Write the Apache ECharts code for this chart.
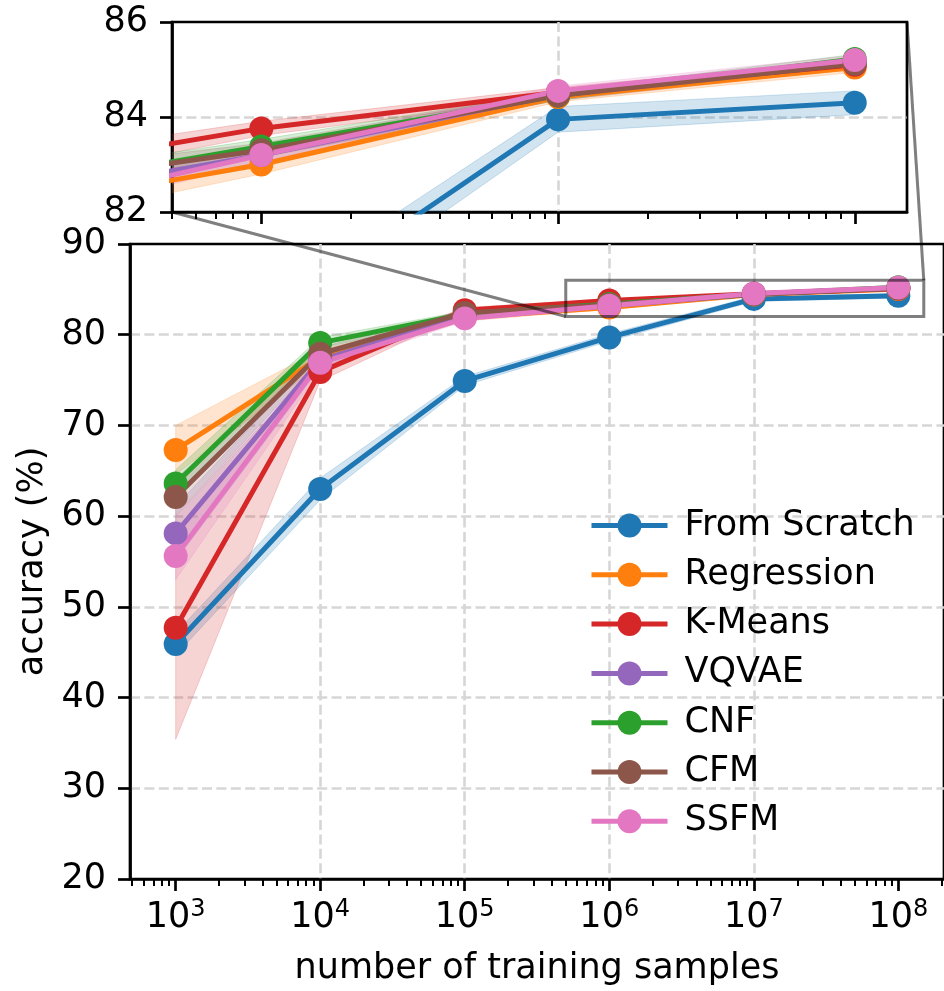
<!DOCTYPE html>
<html>
<head>
<meta charset="utf-8">
<script src="https://cdn.jsdelivr.net/npm/echarts@6/dist/echarts.min.js"></script>
<style>
  html, body { margin: 0; padding: 0; background: #ffffff; }
  #chart { width: 944px; height: 991px; }
</style>
</head>
<body>
<div id="chart"></div>
<script>
// Number of training samples (x) and accuracy (%) per method: mean and spread.
const trainingSizes = [1e3, 1e4, 1e5, 1e6, 1e7, 1e8];

const methodNames = ['From Scratch', 'Regression', 'K-Means', 'VQVAE', 'CNF', 'CFM', 'SSFM'];
const methodColors = ['#1f77b4', '#ff7f0e', '#d62728', '#9467bd', '#2ca02c', '#8c564b', '#e377c2'];

const fromScratchMean = [45.9, 63.0, 74.9, 79.7, 83.95, 84.3];
const fromScratchStd  = [1.2, 1.2, 0.5, 0.4, 0.27, 0.25];
const regressionMean  = [67.3, 77.5, 81.9, 83.0, 84.42, 85.04];
const regressionStd   = [2.7, 0.8, 0.4, 0.2, 0.1, 0.1];
const kmeansMean      = [47.7, 75.9, 82.7, 83.76, 84.52, 85.1];
const kmeansStd       = [12.3, 1.0, 0.3, 0.15, 0.1, 0.1];
const vqvaeMean       = [58.1, 77.2, 82.1, 83.2, 84.48, 85.15];
const vqvaeStd        = [3.0, 0.8, 0.3, 0.15, 0.1, 0.1];
const cnfMean         = [63.6, 79.1, 82.3, 83.38, 84.45, 85.22];
const cnfStd          = [1.5, 0.6, 0.3, 0.15, 0.1, 0.1];
const cfmMean         = [62.1, 77.9, 82.4, 83.3, 84.45, 85.12];
const cfmStd          = [2.0, 0.7, 0.3, 0.15, 0.1, 0.1];
const ssfmMean        = [55.6, 76.9, 81.8, 83.2, 84.55, 85.2];
const ssfmStd         = [2.6, 0.8, 0.3, 0.15, 0.1, 0.1];

const methodMeans = [fromScratchMean, regressionMean, kmeansMean, vqvaeMean, cnfMean, cfmMean, ssfmMean];
const methodStds  = [fromScratchStd, regressionStd, kmeansStd, vqvaeStd, cnfStd, cfmStd, ssfmStd];

// Tick labels
const xTickValues    = [1e3, 1e4, 1e5, 1e6, 1e7, 1e8];
const xTickExponents = ['3', '4', '5', '6', '7', '8'];
const yTickValues    = [20, 30, 40, 50, 60, 70, 80, 90];
const insetYTicks    = [82, 84, 86];

// Zoomed region shown in the inset
const zoomX = [5e5, 1.5e8];
const zoomY = [82, 86];

// Full x range of the main axes (log scale)
const mainXRange = [483, 2.07e8];

const FONT = 'DejaVu Sans';
const FS = 35;

// minor ticks at 2..9 x 10^n
const minorTicks = [];
for (let n = 2; n <= 8; n++) {
  for (let k = 2; k <= 9; k++) minorTicks.push(k * Math.pow(10, n));
}

const gridLine = { show: true, showMinLine: false, showMaxLine: false,
  lineStyle: { color: '#d6d6d6', width: 2.6, type: [10, 4.4] } };
const spine = { show: true, lineStyle: { color: '#000', width: 2.7 } };

function hexToRgba(hex, a) {
  const r = parseInt(hex.slice(1, 3), 16), g = parseInt(hex.slice(3, 5), 16), b = parseInt(hex.slice(5, 7), 16);
  return `rgba(${r},${g},${b},${a})`;
}

function expLabel(v) {
  let best = 0;
  for (let i = 1; i < xTickValues.length; i++) {
    if (Math.abs(Math.log10(xTickValues[i] / v)) < Math.abs(Math.log10(xTickValues[best] / v))) best = i;
  }
  return '{b|10}{s|' + xTickExponents[best] + '}';
}

function majorX(gridIndex, min, max, showLabels) {
  return {
    type: 'log', logBase: 10, gridIndex, min, max, position: 'bottom',
    axisLine: spine,
    axisTick: { show: true, inside: false, length: 12, lineStyle: { color: '#000', width: 2.7 }, customValues: xTickValues },
    axisLabel: {
      show: showLabels, customValues: xTickValues, margin: 19,
      formatter: expLabel,
      rich: {
        b: { fontFamily: FONT, fontSize: FS, color: '#000', lineHeight: 40 },
        s: { fontFamily: FONT, fontSize: 24, color: '#000', lineHeight: 24, verticalAlign: 'top' }
      }
    },
    splitLine: gridLine,
    minorTick: { show: false }, minorSplitLine: { show: false }
  };
}

function minorX(gridIndex, min, max) {
  return {
    type: 'log', logBase: 10, gridIndex, min, max, position: 'bottom',
    axisLine: { show: false },
    axisTick: { show: true, inside: false, length: 7, lineStyle: { color: '#000', width: 2 }, customValues: minorTicks },
    axisLabel: { show: false },
    splitLine: { show: false }
  };
}

function valueY(gridIndex, min, max, interval, extra) {
  return Object.assign({
    type: 'value', gridIndex, min, max, interval,
    axisLine: spine,
    axisTick: { show: true, inside: false, length: 12, lineStyle: { color: '#000', width: 2.7 } },
    axisLabel: { fontFamily: FONT, fontSize: FS, color: '#000', margin: 24 },
    splitLine: gridLine
  }, extra || {});
}

// Shaded mean ± std band of one method, drawn as a polygon through the axis scales
function bandRenderer(i) {
  return function (params, api) {
    const mean = methodMeans[i], std = methodStds[i];
    const upper = trainingSizes.map((x, k) => api.coord([x, mean[k] + std[k]]));
    const lower = trainingSizes.map((x, k) => api.coord([x, mean[k] - std[k]])).reverse();
    const cs = params.coordSys;
    return {
      type: 'group',
      clipPath: { type: 'rect', shape: { x: cs.x, y: cs.y, width: cs.width, height: cs.height } },
      children: [{
        type: 'polygon',
        shape: { points: upper.concat(lower) },
        style: { fill: hexToRgba(methodColors[i], 0.2), stroke: hexToRgba(methodColors[i], 0.2), lineWidth: 1 }
      }]
    };
  };
}

function buildSeries(xAxisIndex, yAxisIndex) {
  const out = [];
  methodNames.forEach((name, i) => {
    out.push({
      type: 'custom', name: name + ' band', xAxisIndex, yAxisIndex,
      data: [[trainingSizes[0], methodMeans[i][0]]],
      renderItem: bandRenderer(i),
      silent: true, z: 1
    });
  });
  methodNames.forEach((name, i) => {
    out.push({
      type: 'line', name, xAxisIndex, yAxisIndex,
      data: trainingSizes.map((x, k) => [x, methodMeans[i][k]]),
      symbol: 'circle', symbolSize: 24, showSymbol: true, z: 3,
      lineStyle: { width: 5, color: methodColors[i] },
      itemStyle: { color: methodColors[i] },
      emphasis: { disabled: true }
    });
  });
  return out;
}

const chart = echarts.init(document.getElementById('chart'), null, { renderer: 'canvas' });

chart.setOption({
  animation: false,
  backgroundColor: '#ffffff',
  textStyle: { fontFamily: FONT },
  grid: [
    { left: 130, top: 244, width: 819, height: 636, show: true, borderColor: '#000', borderWidth: 2.7, backgroundColor: 'transparent' },
    { left: 172, top: 22, width: 735, height: 190, show: true, borderColor: '#000', borderWidth: 2.7, backgroundColor: '#fff' }
  ],
  xAxis: [
    Object.assign(majorX(0, mainXRange[0], mainXRange[1], true), {
      name: 'number of training samples', nameLocation: 'middle', nameGap: 72,
      nameTextStyle: { fontFamily: FONT, fontSize: FS, color: '#000', lineHeight: 35 }
    }),
    minorX(0, mainXRange[0], mainXRange[1]),
    majorX(1, zoomX[0], zoomX[1], false),
    minorX(1, zoomX[0], zoomX[1])
  ],
  yAxis: [
    valueY(0, yTickValues[0], yTickValues[yTickValues.length - 1], 10, {
      name: 'accuracy (%)', nameLocation: 'middle', nameGap: 79, nameRotate: 90,
      nameTextStyle: { fontFamily: FONT, fontSize: FS, color: '#000', lineHeight: 35 }
    }),
    valueY(1, insetYTicks[0], insetYTicks[insetYTicks.length - 1], 2)
  ],
  legend: {
    data: methodNames,
    orient: 'vertical', left: 584, top: 503,
    itemWidth: 76, itemHeight: 30, itemGap: 14.3,
    lineStyle: { width: 5 },
    textStyle: { fontFamily: FONT, fontSize: FS, color: '#000', lineHeight: 35, padding: [0, 0, 0, 12] },
    selectedMode: false
  },
  series: buildSeries(0, 0).concat(buildSeries(2, 1))
});

// Zoom indicator box on the main axes and the two connector lines to the inset
const edge = { stroke: 'rgba(0,0,0,0.5)', lineWidth: 3, fill: null };
const mLL = chart.convertToPixel({ xAxisIndex: 0, yAxisIndex: 0 }, [zoomX[0], zoomY[0]]);
const mUR = chart.convertToPixel({ xAxisIndex: 0, yAxisIndex: 0 }, [zoomX[1], zoomY[1]]);
const iLL = chart.convertToPixel({ xAxisIndex: 2, yAxisIndex: 1 }, [zoomX[0], zoomY[0]]);
const iUR = chart.convertToPixel({ xAxisIndex: 2, yAxisIndex: 1 }, [zoomX[1], zoomY[1]]);

chart.setOption({
  graphic: [
    { type: 'rect', z: 50, silent: true,
      shape: { x: mLL[0], y: mUR[1], width: mUR[0] - mLL[0], height: mLL[1] - mUR[1] },
      style: edge },
    { type: 'line', z: 50, silent: true,
      shape: { x1: iLL[0], y1: iLL[1], x2: mLL[0], y2: mLL[1] }, style: edge },
    { type: 'line', z: 50, silent: true,
      shape: { x1: iUR[0], y1: iUR[1], x2: mUR[0], y2: mUR[1] }, style: edge }
  ]
});
</script>
</body>
</html>
